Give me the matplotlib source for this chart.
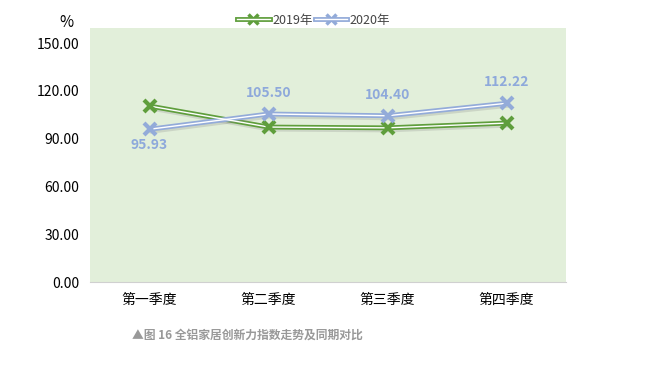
import matplotlib.pyplot as plt
import matplotlib.patheffects as pe
from matplotlib.legend_handler import HandlerTuple

plt.rcParams['font.family'] = ['Noto Sans CJK SC', 'DejaVu Sans']

quarters = ['第一季度', '第二季度', '第三季度', '第四季度']
y2019 = [110.5, 97.3, 96.8, 99.8]
y2020 = [95.93, 105.50, 104.40, 112.22]
yticks = [0, 30, 60, 90, 120, 150]

green = '#5f9e3c'
blue = '#93abd9'

fig = plt.figure(figsize=(6.62, 3.66), dpi=100)
ax = fig.add_axes([0.136, 0.2295, 0.719, 0.694])
ax.set_facecolor('#e2efda')

x = range(len(quarters))
shadow = [pe.SimpleLineShadow(offset=(1, -1.5), shadow_color='#888888', alpha=0.25), pe.Normal()]

# double lines: coloured outer, white inner
handles = []
for vals, col in [(y2019, green), (y2020, blue)]:
    ax.plot(x, vals, color=col, lw=3.5, solid_capstyle='round', path_effects=shadow, zorder=3)
    ax.plot(x, vals, color='white', lw=1.0, zorder=4)
    ax.plot(x, vals, ls='none', marker='x', ms=9, mew=3, color=col, zorder=5)
    o, = ax.plot([], [], color=col, lw=3.5, marker='x', ms=7, mew=2.5)
    i, = ax.plot([], [], color='white', lw=1.0)
    handles.append((o, i))

fig.legend(handles, ['2019年', '2020年'], loc='center', bbox_to_anchor=(0.474, 0.945),
           ncol=2, frameon=False, fontsize=9, handlelength=2.6, columnspacing=0.2,
           handletextpad=0.2, labelcolor='#444444',
           handler_map={tuple: HandlerTuple(ndivide=1, pad=0)})

for i, v in enumerate(y2020):
    dy = -11 if i == 0 else 15
    ax.annotate(f'{v:.2f}', (i, v), xytext=(0, dy), textcoords='offset points',
                ha='center', va='center', color='#8ea9db', fontsize=10, fontweight='bold')

ax.set_xlim(-0.5, 3.5)
ax.set_ylim(0, 159.5)
ax.set_yticks(yticks)
ax.set_yticklabels([f'{t:.2f}' for t in yticks], fontsize=10)
ax.set_xticks(list(x))
ax.set_xticklabels(quarters, fontsize=10)
ax.tick_params(length=0, pad=8)
for s in ['top', 'right', 'left']:
    ax.spines[s].set_visible(False)
ax.spines['bottom'].set_color('#d0d0d0')

fig.text(0.1, 0.925, '%', fontsize=11, ha='center')
fig.text(0.373, 0.085, '▲图 16 全铝家居创新力指数走势及同期对比', ha='center', va='center',
         fontsize=8.5, color='#999999', fontweight='bold')

fig.savefig('out.png', dpi=100)
